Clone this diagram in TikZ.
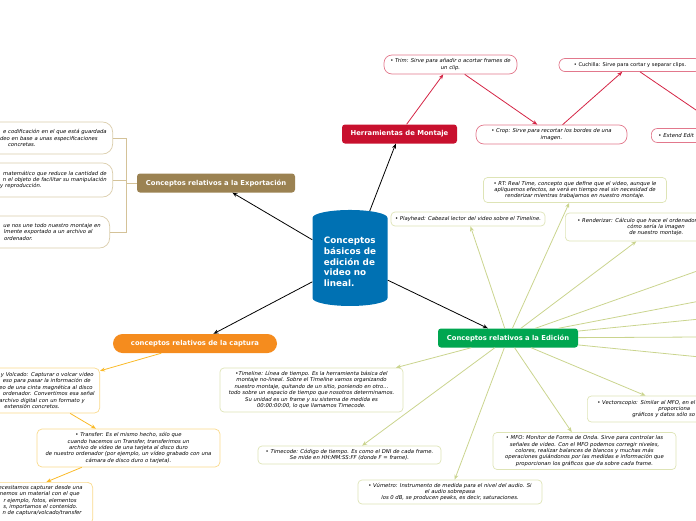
\documentclass[tikz,border=0pt]{standalone}
\usepackage{fontspec}
\setmainfont{DejaVu Sans}
\usetikzlibrary{shapes.geometric, arrows.meta, positioning}
\definecolor{centralblue}{RGB}{0, 113, 179}
\definecolor{montajered}{RGB}{200, 16, 46}
\definecolor{montajeline}{RGB}{212, 36, 68}
\definecolor{montajeborder}{RGB}{226, 120, 140}
\definecolor{exportbrown}{RGB}{155, 130, 82}
\definecolor{exportline}{RGB}{212, 194, 152}
\definecolor{exportborder}{RGB}{218, 204, 170}
\definecolor{capturaorange}{RGB}{245, 140, 30}
\definecolor{capturaline}{RGB}{250, 186, 40}
\definecolor{capturaborder}{RGB}{250, 218, 140}
\definecolor{ediciongreen}{RGB}{0, 166, 80}
\definecolor{edicionline}{RGB}{202, 212, 142}
\definecolor{edicionborder}{RGB}{222, 228, 182}
\newcommand{\trailpad}[1]{\rule{#1}{0pt}}
\tikzstyle{central} = [cylinder, shape border rotate=90, aspect=0.3, fill=centralblue, text=white, font=\bfseries\fontsize{8.8}{10.7}\selectfont, align=left, minimum width=75pt, minimum height=96pt, inner sep=0pt]
\tikzstyle{topic} = [rectangle, rounded corners=3pt, text=white, font=\bfseries\fontsize{6.8}{8}\selectfont, minimum height=19pt, inner sep=2pt]
\tikzstyle{note} = [rectangle, rounded corners=4pt, draw, fill=white, line width=0.7pt, font=\itshape\fontsize{5.3}{6.4}\selectfont, align=center, inner xsep=4pt, inner ysep=2pt]
\tikzstyle{arrow} = [line width=0.8pt, -{Stealth[length=5pt,width=4pt]}]

\begin{document}
\begin{tikzpicture}[x=1pt, y=-1pt]
\useasboundingbox (0,0) rectangle (696,520);

% Central topic
\node (central) [central] at (350,262) {Conceptos\\básicos de\\edición de\\video no\\lineal.};

% Main topics
\node (montaje) [topic, fill=montajered, minimum width=115pt] at (399.5,134) {Herramientas de Montaje};
\node (exportacion) [topic, fill=exportbrown, minimum width=158pt] at (216,183) {Conceptos relativos a la Exportación};
\node (captura) [topic, fill=capturaorange, minimum width=164pt, rounded corners=9.5pt] at (195,343.5) {conceptos relativos de la captura};
\node (edicion) [topic, fill=ediciongreen, minimum width=140pt] at (508,338) {Conceptos relativos a la Edición};

% Montaje tools
\node (trim) [note, draw=montajeborder, rounded corners=8pt, minimum width=133pt, minimum height=19pt] at (450.5,64.5) {• Trim: Sirve para añadir o acortar frames de\\un clip.};
\node (crop) [note, draw=montajeborder, rounded corners=8pt, minimum width=151pt, minimum height=19pt] at (551.5,134.5) {• Crop: Sirve para recortar los bordes de una\\imagen.};
\node (cuchilla) [note, draw=montajeborder, rounded corners=6pt, minimum width=142pt, minimum height=13pt, font=\fontsize{5.1}{6.4}\selectfont] at (630,65) {• Cuchilla: Sirve para cortar y separar clips.};
\node (extend) [note, draw=montajeborder, rounded corners=6pt, minimum height=14pt, anchor=west, text width=150pt, align=left, inner xsep=7pt] at (651,135.5) {• Extend Edit};

% Export concepts
\node (codec) [note, draw=exportborder, rounded corners=10pt, anchor=east, text width=150pt, align=right, inner xsep=6pt, minimum height=32pt] at (113,138) {e codificación en el que está guardada\\deo en base a unas especificaciones\trailpad{9pt}\\concretas.\trailpad{71pt}};
\node (compresion) [note, draw=exportborder, rounded corners=10pt, anchor=east, text width=150pt, align=right, inner xsep=6pt, minimum height=34pt] at (113,180) {matemático que reduce la cantidad de\\n el objeto de facilitar su manipulación\\y reproducción.\trailpad{65pt}};
\node (renderizado) [note, draw=exportborder, rounded corners=10pt, anchor=east, text width=150pt, align=right, inner xsep=6pt, minimum height=32pt] at (110,232) {ue nos une todo nuestro montaje en\trailpad{3pt}\\lmente exportado a un archivo al\trailpad{11pt}\\ordenador.\trailpad{71pt}};

% Captura concepts
\node (volcado) [note, draw=capturaborder, rounded corners=5pt, anchor=east, text width=126pt, align=right, inner xsep=5pt, minimum height=45pt] at (100,390.5) {y Volcado: Capturar o volcar video\trailpad{1pt}\\eso para pasar la información de\trailpad{4pt}\\deo de una cinta magnética al disco\trailpad{2pt}\\ordenador. Convertimos esa señal\\archivo digital con un formato y\trailpad{10pt}\\extensión concretos.\trailpad{35pt}};
\node (transfer) [note, draw=capturaborder, rounded corners=5pt, minimum width=183pt, minimum height=38pt] at (128.5,448) {• Transfer: Es el mismo hecho, sólo que\\cuando hacemos un Transfer, transferimos un\\archivo de vídeo de una tarjeta al disco duro\\de nuestro ordenador (por ejemplo, un vídeo grabado con una\\cámara de disco duro o tarjeta).};
\node (importar) [note, draw=capturaborder, rounded corners=5pt, anchor=north east, text width=186pt, align=right, inner xsep=5pt, inner ysep=3pt] at (93,482) {ecesitamos capturar desde una\trailpad{5pt}\\enemos un material con el que\trailpad{8pt}\\r ejemplo, fotos, elementos\trailpad{11pt}\\s, importamos el contenido.\trailpad{10pt}\\n de captura/volcado/transfer\trailpad{6pt}\\\mbox{}};

% Edicion concepts
\node (playhead) [note, draw=edicionborder, minimum height=14pt] at (468,219) {• Playhead: Cabezal lector del video sobre el Timeline.};
\node (rt) [note, draw=edicionborder, minimum width=183pt, minimum height=25pt] at (575,190) {• RT: Real Time, concepto que define que el video, aunque le\\apliquemos efectos, se verá en tiempo real sin necesidad de\\renderizar mientras trabajamos en nuestro montaje.};
\node (renderizar) [note, draw=edicionborder, anchor=west, text width=170pt, align=left, inner xsep=5pt, minimum height=28pt] at (565,227) {\hspace*{7pt}• Renderizar: Cálculo que hace el ordenador\\\hspace*{57pt}cómo sería la imagen\\\hspace*{59pt}de nuestro montaje.};
\node (timeline) [note, draw=edicionborder, minimum width=183pt, minimum height=44pt] at (311.5,390) {•Timeline: Línea de tiempo. Es la herramienta básica del\\montaje no-lineal. Sobre el Timeline vamos organizando\\nuestro montaje, quitando de un sitio, poniendo en otro...\\todo sobre un espacio de tiempo que nosotros determinamos.\\Su unidad es un frame y su sistema de medida es\\00:00:00:00, lo que llamamos Timecode.};
\node (timecode) [note, draw=edicionborder, minimum width=183pt, minimum height=18pt] at (349.5,455) {• Timecode: Código de tiempo. Es como el DNI de cada frame.\\Se mide en HH:MM:SS:FF (donde F = frame).};
\node (vumetro) [note, draw=edicionborder, minimum width=184pt, minimum height=24pt] at (450,492) {• Vúmetro: Instrumento de medida para el nivel del audio. Si\\el audio sobrepasa\\los 0 dB, se producen peaks, es decir, saturaciones.};
\node (mfo) [note, draw=edicionborder, minimum width=183pt, minimum height=37pt] at (584.5,451) {• MFO: Monitor de Forma de Onda. Sirve para controlar las\\señales de video. Con el MFO podemos corregir niveles,\\colores, realizar balances de blancos y muchas más\\operaciones guiándonos por las medidas e información que\\proporcionan los gráficos que da sobre cada frame.};
\node (vectorscopio) [note, draw=edicionborder, anchor=west, text width=170pt, align=left, inner xsep=5pt, minimum height=26pt] at (587,409) {\hspace*{5pt}• Vectorscopio: Similar al MFO, en el\\\hspace*{66pt}proporciona\\\hspace*{40pt}gráficos y datos sólo so};

% Branches leaving the page on the right
\coordinate (edicion_more1) at (700,270);
\coordinate (edicion_more2) at (700,301);
\coordinate (edicion_more3) at (700,319);
\coordinate (edicion_more4) at (700,337);
\coordinate (edicion_more5) at (700,357);

% Central connections
\draw [arrow] (central) -- (montaje);
\draw [arrow] (central) -- (exportacion);
\draw [arrow] (central) -- (captura);
\draw [arrow] (central) -- (edicion);

% Montaje chain
\draw [arrow, montajeline] (montaje) -- (trim);
\draw [arrow, montajeline] (trim) -- (crop);
\draw [arrow, montajeline] (crop) -- (cuchilla);
\draw [arrow, montajeline] (cuchilla) -- (extend);

% Export bracket
\foreach \n in {codec, compresion, renderizado}
  \draw [exportline, line width=0.8pt] (exportacion.west) -- ++(-10,0) |- (\n.east);

% Captura chain
\draw [arrow, capturaline] (captura) -- (volcado);
\draw [arrow, capturaline] (volcado) -- (transfer);
\draw [arrow, capturaline] (transfer) -- (importar);

% Edicion fan
\foreach \n in {playhead, rt, renderizar, vectorscopio, mfo, vumetro, timecode, timeline}
  \draw [arrow, edicionline] (edicion) -- (\n);
\foreach \i in {1,...,5}
  \draw [edicionline, line width=0.8pt] (edicion) -- (edicion_more\i);

\end{tikzpicture}
\end{document}
